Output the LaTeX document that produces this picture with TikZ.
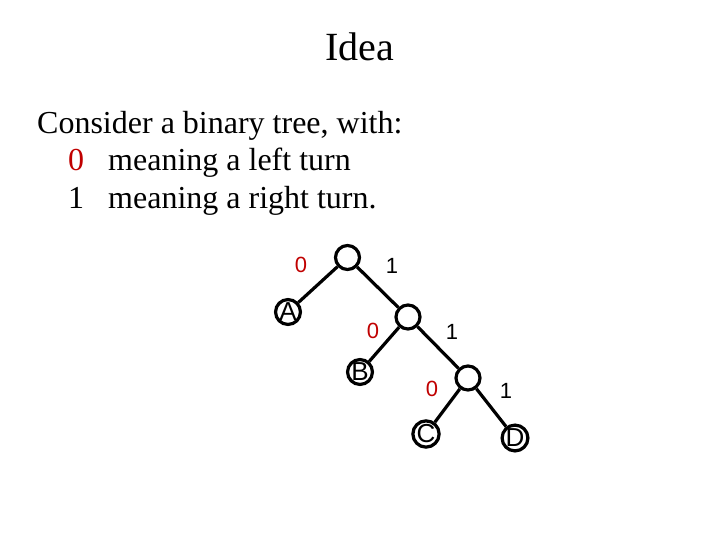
\documentclass[tikz,border=0pt]{standalone}
\usepackage{fontspec}
\setmainfont{Liberation Serif}
\newfontfamily\arialf{Liberation Sans}
\definecolor{zred}{RGB}{192,0,0}
\begin{document}
\begin{tikzpicture}[x=1pt,y=-1pt,
  tnode/.style={circle,draw,line width=3.2pt,minimum size=24pt,inner sep=0pt},
  leaf/.style={tnode,font=\arialf\fontsize{26}{26}\selectfont},
  edge/.style={line width=3.2pt},
  bitz/.style={font=\arialf\fontsize{22}{22}\selectfont,text=zred},
  bito/.style={font=\arialf\fontsize{22}{22}\selectfont},
  body/.style={anchor=base west,inner sep=0pt,font=\fontsize{32}{32}\selectfont}]
\useasboundingbox (0,0) rectangle (720,540);
\node[anchor=base,inner sep=0pt,font=\fontsize{40}{40}\selectfont] (title) at (360,61) {Idea};
\node[body] (l1) at (37,134) {Consider a binary tree, with:};
\node[body,text=zred] (z) at (68,171) {0};
\node[body] (l2) at (108,171) {meaning a left turn};
\node[body] (o) at (68,209) {1};
\node[body] (l3) at (108,209) {meaning a right turn.};
\node[tnode] (r) at (347.5,257.5) {};
\node[leaf] (A) at (288,312) {A};
\node[tnode] (n2) at (408,317) {};
\node[leaf] (B) at (360,372) {B};
\node[tnode] (n3) at (468,378) {};
\node[leaf] (C) at (426,434) {C};
\node[leaf] (D) at (515,438) {D};
\draw[edge] (r) -- (A);
\draw[edge] (r) -- (n2);
\draw[edge] (n2) -- (B);
\draw[edge] (n2) -- (n3);
\draw[edge] (n3) -- (C);
\draw[edge] (n3) -- (D);
\node[bitz] (b1) at (301,265) {0};
\node[bito] (b2) at (392,266) {1};
\node[bitz] (b3) at (373,331) {0};
\node[bito] (b4) at (452,332) {1};
\node[bitz] (b5) at (432,389) {0};
\node[bito] (b6) at (506,391) {1};
\end{tikzpicture}
\end{document}
